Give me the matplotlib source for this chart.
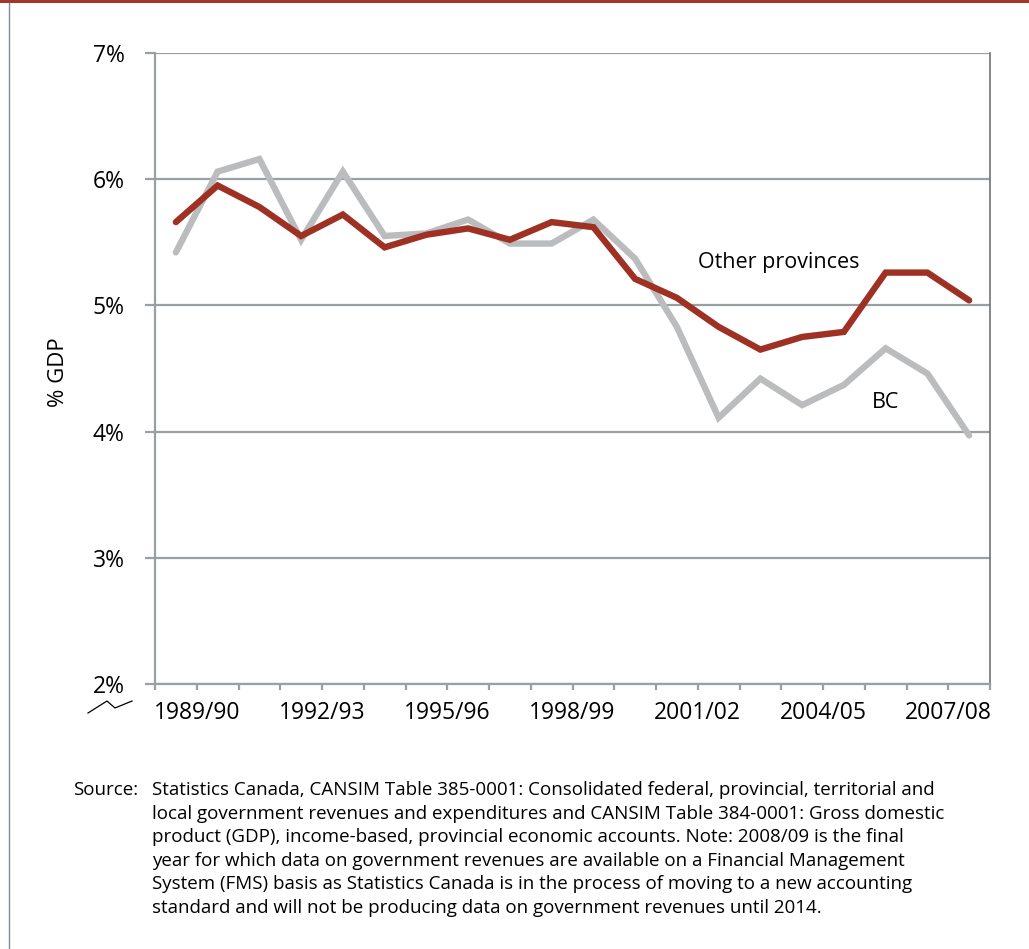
import matplotlib
matplotlib.use("Agg")
import matplotlib.pyplot as plt
from matplotlib.lines import Line2D
from matplotlib.patches import Rectangle

plt.rcParams['font.family'] = ['Open Sans', 'DejaVu Sans']

# Data (% of GDP), fiscal years 1988/89 .. 2007/08
bc = [5.42, 6.06, 6.16, 5.52, 6.06, 5.55, 5.57, 5.68, 5.49, 5.49,
      5.68, 5.37, 4.83, 4.11, 4.42, 4.21, 4.37, 4.66, 4.46, 3.97]
other = [5.66, 5.95, 5.78, 5.55, 5.72, 5.46, 5.56, 5.61, 5.52, 5.66,
         5.62, 5.21, 5.06, 4.83, 4.65, 4.75, 4.79, 5.26, 5.26, 5.04]
tick_labels = ["1989/90", "1992/93", "1995/96", "1998/99", "2001/02", "2004/05", "2007/08"]
y_ticks = [2, 3, 4, 5, 6, 7]

source_lines = [
    "Statistics Canada, CANSIM Table 385-0001: Consolidated federal, provincial, territorial and",
    "local government revenues and expenditures and CANSIM Table 384-0001: Gross domestic",
    "product (GDP), income-based, provincial economic accounts. Note: 2008/09 is the final",
    "year for which data on government revenues are available on a Financial Management",
    "System (FMS) basis as Statistics Canada is in the process of moving to a new accounting",
    "standard and will not be producing data on government revenues until 2014.",
]

W, H = 1029, 949
fig = plt.figure(figsize=(W / 100, H / 100), dpi=100)
ax = fig.add_axes([155 / W, 1 - 684 / H, (990 - 155) / W, (684 - 53) / H])

RED = "#9E3124"
GRAY = "#BBBCBE"
GRID = "#9A9FA3"

n = len(bc)
x = list(range(n))
ax.plot(x, bc, color=GRAY, lw=4.6, solid_joinstyle='miter', solid_capstyle='round', zorder=3)
ax.plot(x, other, color=RED, lw=4.6, solid_joinstyle='miter', solid_capstyle='round', zorder=4)

ax.set_xlim(-0.5, n - 0.5)
ax.set_ylim(2, 7)
ax.set_yticks(y_ticks)
ax.set_yticklabels([f"{v}%" for v in y_ticks], fontsize=16.5)
ax.yaxis.grid(True, color=GRID, lw=1.6)
ax.set_axisbelow(True)

# ticks at category boundaries, labels on every third boundary
bounds = [k - 0.5 for k in range(n + 1)]
labels = [""] * (n + 1)
for i, lab in enumerate(tick_labels):
    labels[1 + 3 * i] = lab
ax.set_xticks(bounds)
ax.set_xticklabels(labels, fontsize=16.5)
ax.tick_params(axis='x', length=4, width=1.6, color=GRID, direction='out', pad=8)
ax.tick_params(axis='y', length=7, width=1.6, color=GRID, pad=15)

ax.spines['top'].set_visible(False)
ax.spines['left'].set_color(GRID)
ax.spines['left'].set_linewidth(1.6)
ax.spines['bottom'].set_color(GRID)
ax.spines['bottom'].set_linewidth(1.6)
ax.spines['right'].set_color("#707274")
ax.spines['right'].set_linewidth(1.2)

ax.set_ylabel("% GDP", fontsize=16)
ax.yaxis.set_label_coords((69 - 155) / (990 - 155), (684 - 372) / (684 - 53))

ax.text(14.45, 5.34, "Other provinces", fontsize=15.5, ha='center', va='center', color='black')
ax.text(17.0, 4.23, "BC", fontsize=15.5, ha='center', va='center', color='black')

# axis break symbol
zx = [88, 107, 115, 132]
zy = [713, 701, 708, 701]
fig.add_artist(Line2D([v / W for v in zx], [1 - v / H for v in zy], color='black', lw=0.9))

# frame decorations
fig.add_artist(Rectangle((0, 1 - 3 / H), 1, 3 / H, color="#A3352A", lw=0))
fig.add_artist(Line2D([8.5 / W, 8.5 / W], [0, 1 - 3 / H], color="#7C8E9B", lw=1.0))

# source note
fig.text(73 / W, 1 - 790 / H, "Source:", fontsize=13.5, va='center', ha='left')
for i, line in enumerate(source_lines):
    fig.text(152 / W, 1 - (790 + 23.6 * i) / H, line, fontsize=13.5, va='center', ha='left')

fig.savefig("out.png", dpi=100)
